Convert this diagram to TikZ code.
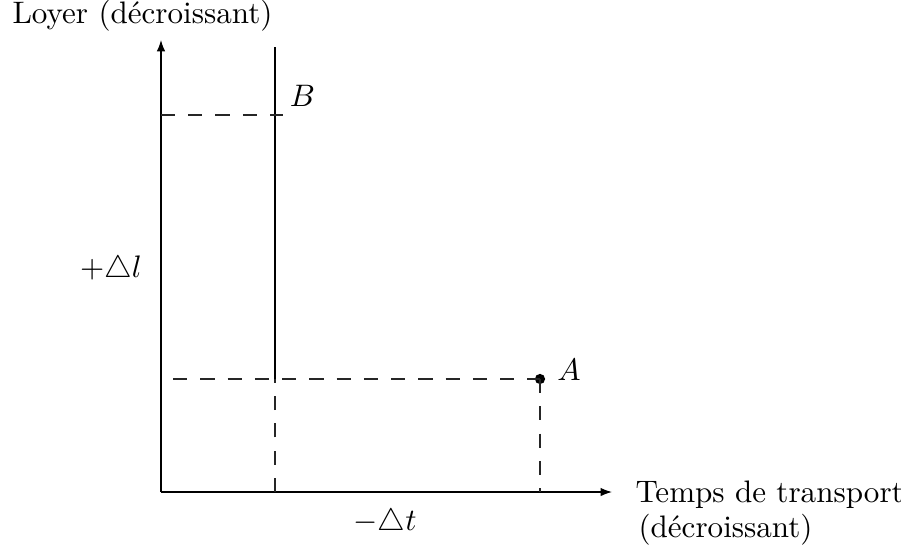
\documentclass[tikz,border=0pt]{standalone}
\usepackage{amsmath,amssymb}
\usepackage{tikz}
\usetikzlibrary{positioning,calc,arrows.meta}
\tikzset{
  axis/.style={draw=black,line width=0.45pt,-{Latex[length=4pt,width=3pt]}},
  guide/.style={draw=black!85,line width=0.45pt,dash pattern=on 5pt off 4.6pt},
  solidline/.style={draw=black,line width=0.45pt},
  dot/.style={circle,fill=black,inner sep=0pt,minimum size=3.6pt},
  lab/.style={inner sep=0pt,font=\fontsize{10.95}{13.6}\selectfont},
}

\begin{document}
\begin{tikzpicture}
    \useasboundingbox (-1.993,-0.693) rectangle (9.161,6.091);
    \coordinate (o) at (0,0);
    \coordinate (ytop) at (0,5.596);
    \coordinate (xend) at (5.583,0);
    \coordinate (btop) at (1.411,5.509);
    \coordinate (bfoot) at (1.411,0);
    \coordinate (bmid) at (1.411,1.399);
    \coordinate (bl) at (0,4.667);
    \coordinate (br) at (1.51,4.667);
    \coordinate (al) at (0.15,1.399);
    \coordinate (afoot) at (4.692,0);
    \node[dot] (a) at (4.692,1.399) {};
    \draw[axis] (o)--(ytop);
    \draw[axis] (o)--(xend);
    \draw[solidline] (bmid)--(btop);
    \draw[guide] (bfoot)--(bmid);
    \draw[guide] (bl)--(br);
    \draw[guide] (al)--(a.center);
    \draw[guide] (a.center)--(afoot);
    \node[lab] (lb) at (1.752,4.902) {$B$};
    \node[lab] (la) at (5.051,1.51) {$A$};
    \node[lab] (dl) at (-0.619,2.748) {$+\triangle l$};
    \node[lab] (dt) at (2.773,-0.384) {$-\triangle t$};
    \node[lab,anchor=base west] (xl) at (5.868,-0.124) {Temps de transport};
    \node[lab,anchor=base west] (xl2) at (5.905,-0.56) {(décroissant)};
    \node[lab,anchor=base west] (yl) at (-1.845,5.806) {Loyer (décroissant)};
  \end{tikzpicture}
\end{document}
